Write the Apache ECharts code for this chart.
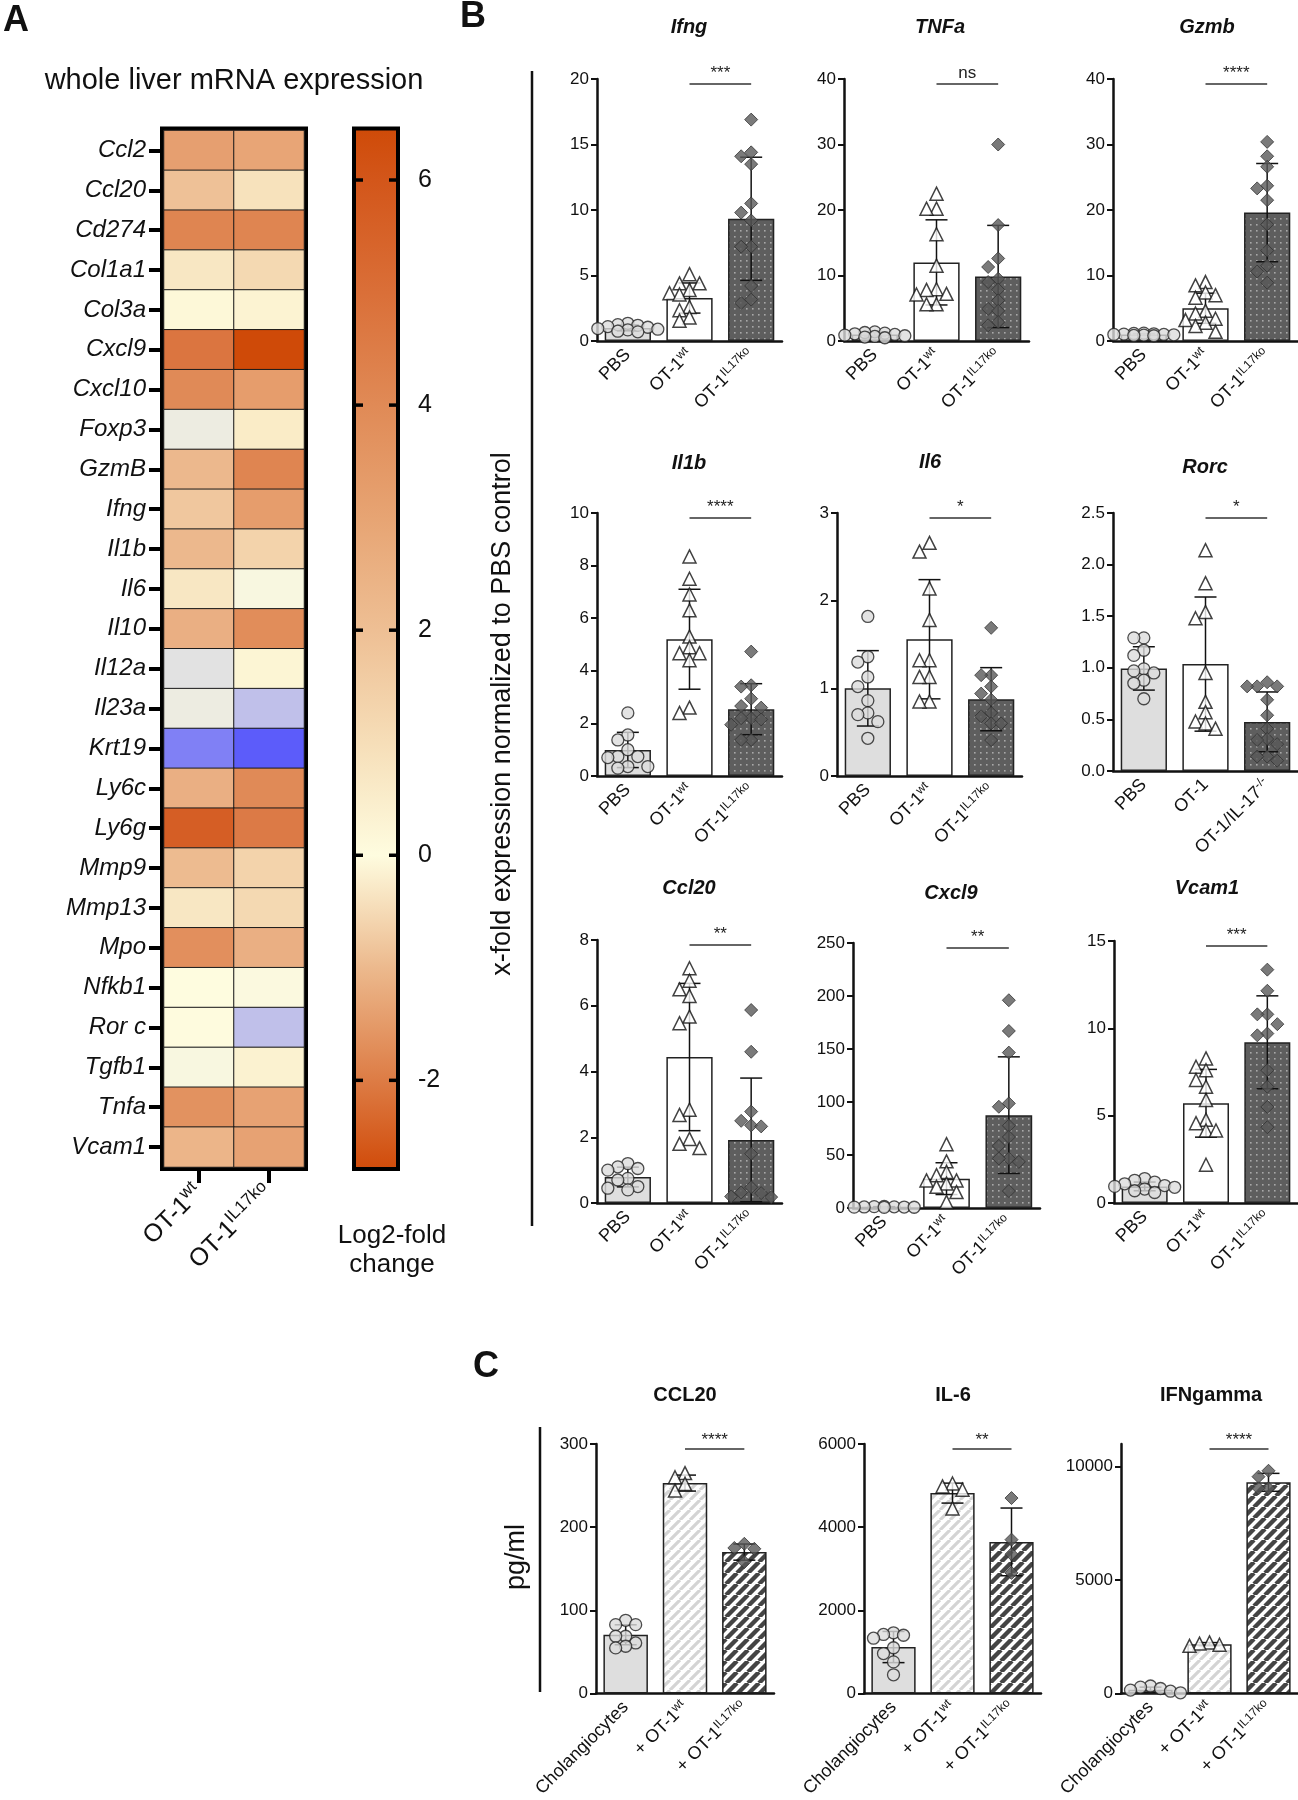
<!DOCTYPE html>
<html><head><meta charset="utf-8">
<script src="https://cdn.jsdelivr.net/npm/echarts@6/dist/echarts.min.js"></script>
<style>html,body{margin:0;padding:0;background:#fff}#c{width:1298px;height:1800px}</style>
</head><body><div id="c"></div>
<script>
// ================= DATA =================
// Panel A – heatmap (log2-fold change)
const genes = ['Ccl2','Ccl20','Cd274','Col1a1','Col3a','Cxcl9','Cxcl10','Foxp3','GzmB','Ifng','Il1b','Il6','Il10','Il12a','Il23a','Krt19','Ly6c','Ly6g','Mmp9','Mmp13','Mpo','Nfkb1','Ror c','Tgfb1','Tnfa','Vcam1'];
const heatGroups = ['OT-1^wt','OT-1^IL17ko'];
const log2wt = [3.2, 2.0, 4.2, 0.7, 0.15, 4.8, 4.0, -0.3, 2.3, 1.8, 2.3, 0.7, 2.6, -0.5, -0.3, -2.0, 2.6, 5.7, 2.2, 0.7, 3.8, 0.0, 0.02, -0.1, 3.7, 2.4];
const log2ko = [3.0, 0.9, 4.2, 1.2, 0.3, 6.5, 3.3, 0.55, 4.2, 3.3, 1.4, -0.1, 3.9, 0.25, -1.0, -2.6, 4.0, 4.6, 1.4, 1.2, 2.6, -0.05, -1.0, 0.35, 3.1, 3.1];
const colorbarTicks = [-2, 0, 2, 4, 6];
const colorbarMin = -2.77, colorbarMax = 6.44;

// Panel B – x-fold expression
const labelsB = ['PBS', 'OT-1^wt', 'OT-1^IL17ko'];
const labelsRorc = ['PBS', 'OT-1', 'OT-1/IL-17^-/-'];
const ifngPBS = [1.35, 1.25, 1.2, 1.1, 1.05, 0.95, 0.9, 0.85, 0.75, 0.7];
const ifngWT = [5.1, 4.4, 4.4, 3.9, 3.65, 3.55, 2.6, 2.35, 1.8, 1.55];
const ifngKO = [16.9, 14.4, 14.1, 13.5, 10.5, 9.8, 9.2, 7.2, 7.2, 4.2, 3.16, 2.9];
const ifngMean = [1.0, 3.28, 9.33], ifngSD = [0.22, 1.15, 4.7];

const tnfPBS = [1.4, 1.3, 1.2, 1.1, 1.0, 0.9, 0.8, 0.7, 0.6, 0.5];
const tnfWT = [22.5, 20.2, 20.2, 16.3, 11.5, 7.9, 7.8, 7.2, 7.1, 5.6, 5.6];
const tnfKO = [30.0, 17.7, 12.6, 11.3, 9.5, 9.0, 7.85, 6.2, 4.9, 4.6, 2.9, 2.4];
const tnfMean = [1.0, 12.0, 9.85], tnfSD = [0.3, 6.5, 7.8];

const gzmPBS = [1.2, 1.15, 1.1, 1.05, 1.0, 1.0, 0.95, 0.9, 0.85, 0.8];
const gzmWT = [9.0, 8.5, 7.4, 7.0, 6.6, 4.6, 4.2, 3.4, 3.2, 2.8, 2.3, 1.4];
const gzmKO = [30.4, 28.2, 26.6, 23.7, 23.3, 21.5, 17.8, 13.8, 11.5, 10.6, 8.9];
const gzmMean = [1.0, 5.0, 19.6], gzmSD = [0.13, 2.3, 7.5];

const il1bPBS = [2.4, 1.56, 1.37, 1.0, 0.74, 0.74, 0.7, 0.36, 0.36, 0.3];
const il1bWT = [8.35, 7.5, 6.9, 6.3, 5.3, 4.9, 4.67, 4.67, 4.4, 2.6, 2.4];
const il1bKO = [4.73, 3.45, 3.4, 2.94, 2.66, 2.6, 2.2, 2.2, 2.15, 1.95, 1.37, 1.37];
const il1bMean = [0.99, 5.2, 2.54], il1bSD = [0.67, 1.9, 0.97];

const il6PBS = [1.82, 1.36, 1.3, 1.13, 1.02, 0.86, 0.72, 0.7, 0.62, 0.43];
const il6WT = [2.66, 2.56, 2.14, 1.78, 1.32, 1.32, 1.13, 1.13, 0.85, 0.85];
const il6KO = [1.69, 1.15, 1.15, 1.02, 0.94, 0.87, 0.72, 0.68, 0.6, 0.6, 0.41];
const il6Mean = [1.0, 1.56, 0.876], il6SD = [0.43, 0.68, 0.36];

const rorcPBS = [1.29, 1.29, 1.17, 1.12, 0.99, 0.97, 0.95, 0.88, 0.85, 0.7];
const rorcWT = [2.14, 1.82, 1.54, 1.48, 0.95, 0.67, 0.57, 0.48, 0.46, 0.41];
const rorcKO = [0.86, 0.82, 0.82, 0.82, 0.69, 0.54, 0.41, 0.31, 0.3, 0.26, 0.14, 0.14, 0.1];
const rorcMean = [0.994, 1.036, 0.476], rorcSD = [0.21, 0.65, 0.29];

const ccl20PBS = [1.2, 1.1, 1.05, 1.0, 0.75, 0.7, 0.5, 0.45, 0.4];
const ccl20WT = [7.14, 6.76, 6.5, 6.3, 5.67, 5.47, 2.84, 2.68, 1.95, 1.8, 1.67];
const ccl20KO = [5.87, 4.6, 2.78, 2.5, 2.36, 2.33, 1.5, 0.48, 0.32, 0.3, 0.2, 0.18];
const ccl20Mean = [0.79, 4.44, 1.92], ccl20SD = [0.3, 2.24, 1.88];

const cxcl9PBS = [1.5, 1.3, 1.1, 1.0, 0.9, 0.8, 0.7, 0.6];
const cxcl9WT = [60.2, 44, 34, 31, 26, 26, 23, 20, 15, 5.7];
const cxcl9KO = [196, 167, 146.6, 98.7, 95.5, 77.6, 67, 58.6, 46.7, 46.7, 43.5, 16];
const cxcl9Mean = [1.0, 27.7, 87.6], cxcl9SD = [0.3, 15, 55];

const vcamPBS = [1.4, 1.3, 1.2, 1.1, 1.0, 0.95, 0.9, 0.8, 0.7, 0.6];
const vcamWT = [8.28, 7.8, 7.6, 7.04, 6.66, 5.9, 4.76, 4.57, 4.15, 4.15, 2.19];
const vcamKO = [13.36, 12.15, 10.8, 10.8, 10.24, 9.7, 9.6, 7.6, 6.66, 5.5, 4.34];
const vcamMean = [0.95, 5.71, 9.2], vcamSD = [0.25, 1.94, 2.66];

// Panel C – pg/ml
const labelsC = ['Cholangiocytes', '+ OT-1^wt', '+ OT-1^IL17ko'];
const cCcl20Chol = [88, 82.8, 82.8, 68.8, 68.8, 60.8, 56.8, 54.8];
const cCcl20WT = [265, 260, 252, 244];
const cCcl20KO = [180, 175, 174, 158];
const cCcl20Mean = [70.6, 253, 170], cCcl20SD = [12, 9.6, 9.7];

const cIl6Chol = [1460, 1420, 1400, 1330, 1100, 960, 760, 450];
const cIl6WT = [5050, 4980, 4900, 4450];
const cIl6KO = [4700, 3700, 3350, 2900];
const cIl6Mean = [1117, 4819, 3646], cIl6SD = [375, 240, 814];

const cIfnChol = [330, 280, 220, 150, 100, 60, 30];
const cIfnWT = [2250, 2200, 2150, 2100];
const cIfnKO = [9820, 9560, 9045, 9045];
const cIfnMean = [170, 2175, 9310], cIfnSD = [110, 70, 395];
const cIfnTicks = [0, 5000, 10000];

// ================= STYLE HELPERS =================
const FONT = '"Liberation Sans", Arial, Helvetica, sans-serif';
const heatColors = ['#4a4afc','#6060fa','#8080f5','#a0a0f0','#c0c0ea','#e2e2e2','#fefcdf','#faedc9','#f6dfb9','#f2d0a8','#eec197','#ebb286','#e8a576','#e49766','#e08a57','#dd7d49','#da703a','#d6632b','#d3571c','#cf4a08'];
const colorbarStops = [[6.44,'#cf4b09'],[6,'#d3561a'],[5,'#da6f38'],[4,'#e08a56'],[3,'#e7a473'],[2,'#eebf94'],[1,'#f6deb8'],[0,'#fefcdf'],[-1,'#ecb98d'],[-2,'#dd7c45'],[-2.77,'#d14d0c']];

function makePattern(kind){
  const c = document.createElement('canvas');
  if (kind === 'dots'){
    c.width = 6; c.height = 6;
    const g = c.getContext('2d');
    g.fillStyle = '#5e5e5e'; g.fillRect(0,0,6,6);
    g.fillStyle = '#a8a8a8'; g.fillRect(2,2,1.6,1.6);
  } else {
    const s = kind === 'light' ? 10 : 11;
    c.width = s; c.height = s;
    const g = c.getContext('2d');
    g.fillStyle = '#fff'; g.fillRect(0,0,s,s);
    g.strokeStyle = kind === 'light' ? '#d4d4d4' : '#444';
    g.lineWidth = kind === 'light' ? 3.2 : 4.4;
    g.beginPath();
    for (let k=-1;k<=1;k++){ g.moveTo(k*s, s); g.lineTo(k*s+s, 0); }
    g.stroke();
  }
  return {image: c, repeat: 'repeat'};
}
const fillsB = ['#dedede', '#ffffff', makePattern('dots')];
const fillsC = ['#dedede', makePattern('light'), makePattern('dark')];

function supFmt(v){
  const i = v.indexOf('^');
  return i < 0 ? '{n|' + v + '}' : '{n|' + v.slice(0,i) + '}{s|' + v.slice(i+1) + '}';
}
const richA = {n:{fontSize:25, fontFamily:FONT, color:'#111'}, s:{fontSize:17, fontFamily:FONT, color:'#111', padding:[0,0,14,0]}};
const richB = {n:{fontSize:18, fontFamily:FONT, color:'#111'}, s:{fontSize:12, fontFamily:FONT, color:'#111', padding:[0,0,9,0]}};

const SYM = ['circle','triangle','diamond'];
const SIZE = [12, 13, 13];
const PSTYLE = [
  {color:'#dcdcdc', borderColor:'#222', borderWidth:1.3},
  {color:'#ffffff', borderColor:'#111', borderWidth:1.5},
  {color:'#595959', borderColor:'#333', borderWidth:1}
];

// ================= OPTION =================
const option = {animation:false, backgroundColor:'#fff', grid:[], xAxis:[], yAxis:[], series:[], visualMap:[], graphic:[]};

// ---- Panel A heatmap ----
option.grid.push({left:164, top:130.5, width:140, height:1036.5, show:true, borderColor:'#000', borderWidth:8, backgroundColor:'transparent'});
option.xAxis.push({type:'category', gridIndex:0, data:heatGroups, axisLine:{show:false},
  axisTick:{show:true, alignWithLabel:true, length:16, lineStyle:{color:'#000', width:4}},
  axisLabel:{rotate:45, margin:22, interval:0, formatter:supFmt, rich:richA}, splitLine:{show:false}});
option.yAxis.push({type:'category', gridIndex:0, data:genes, inverse:true, axisLine:{show:false},
  axisTick:{show:true, alignWithLabel:true, length:15, lineStyle:{color:'#000', width:4}},
  axisLabel:{fontSize:24, fontStyle:'italic', fontFamily:FONT, color:'#111', margin:18, interval:0}, splitLine:{show:false}});
const heatData = [];
genes.forEach((g, yi) => { heatData.push([0, yi, log2wt[yi]]); heatData.push([1, yi, log2ko[yi]]); });
option.series.push({type:'heatmap', xAxisIndex:0, yAxisIndex:0, data:heatData, itemStyle:{borderColor:'#1a1a1a', borderWidth:1}});
option.visualMap.push({type:'continuous', show:false, seriesIndex:0, dimension:2, min:-3, max:6.5, inRange:{color:heatColors}});

// ---- Panel A colorbar ----
option.grid.push({left:356, top:130.5, width:40, height:1036.5, show:true, borderColor:'#000', borderWidth:8, backgroundColor:'transparent'});
option.xAxis.push({type:'value', gridIndex:1, min:0, max:1, show:false});
option.yAxis.push({type:'value', gridIndex:1, position:'right', min:colorbarMin, max:colorbarMax, axisLine:{show:false, onZero:false},
  axisTick:{show:false},
  axisLabel:{customValues:colorbarTicks, fontSize:25, fontFamily:FONT, color:'#111', margin:22}, splitLine:{show:false}});
option.series.push({type:'custom', xAxisIndex:1, yAxisIndex:1, data:colorbarTicks.map(v => [0.5, v]), z:1,
  renderItem:(p, api) => {
    const cs = p.coordSys;
    const children = [];
    if (p.dataIndex === 0){
      const span = colorbarMax - colorbarMin;
      const stops = colorbarStops.map(s => ({offset:(colorbarMax - s[0]) / span, color:s[1]}));
      children.push({type:'rect', z2:0, shape:{x:cs.x, y:cs.y, width:cs.width, height:cs.height},
        style:{fill:new echarts.graphic.LinearGradient(0,0,0,1,stops)}});
    }
    const y = api.coord([0.5, api.value(1)])[1];
    const st = {stroke:'#000', lineWidth:3.5};
    children.push({type:'line', z2:5, shape:{x1:cs.x, y1:y, x2:cs.x + 7, y2:y}, style:st});
    children.push({type:'line', z2:5, shape:{x1:cs.x + cs.width - 7, y1:y, x2:cs.x + cs.width, y2:y}, style:st});
    return {type:'group', children};
  }});

// ---- bar/scatter charts ----
function swarm(vals, gi, c){
  const ppu = c.height / c.max, band = c.width / 3, step = 10;
  const order = vals.map((v,i)=>i).sort((a,b)=>vals[b]-vals[a]);
  const placed = [], out = [];
  const cands = [0,-1,1,-2,2,-3,3];
  order.forEach(i => {
    const py = vals[i] * ppu;
    let best = 0, bestD = -1;
    for (const k of cands){
      const px = k * step;
      let minD = Infinity;
      placed.forEach(p => { const d = Math.hypot(p[0]-px, p[1]-py); if (d < minD) minD = d; });
      if (minD >= step){ best = px; bestD = minD; break; }
      if (minD > bestD){ bestD = minD; best = px; }
    }
    placed.push([best, py]);
    out.push([gi + best / band, vals[i]]);
  });
  return out;
}

function addBarChart(c){
  const g = option.grid.length;
  option.grid.push({left:c.left, top:c.top, width:c.width, height:c.height});
  const xi = option.xAxis.length;
  option.xAxis.push({type:'category', gridIndex:g, data:c.labels,
    axisLine:{onZero:false, lineStyle:{color:'#111', width:2.5}},
    axisTick:{alignWithLabel:true, length:9, lineStyle:{color:'#111', width:2.5}},
    axisLabel:{rotate:45, margin:11, interval:0, formatter:supFmt, rich:richB}, splitLine:{show:false}});
  option.xAxis.push({type:'value', gridIndex:g, min:-0.5, max:2.5, show:false});
  const yi = option.yAxis.length;
  const ya = {type:'value', gridIndex:g, min:0, max:c.max, interval:c.interval,
    axisLine:{show:true, onZero:false, lineStyle:{color:'#111', width:2.5}},
    axisTick:{show:true, length:6, lineStyle:{color:'#111', width:2}},
    axisLabel:{fontSize:17, fontFamily:FONT, color:'#111', margin:8,
      formatter: v => c.dec ? v.toFixed(c.dec) : String(v)},
    splitLine:{show:false}};
  if (c.ticks){ ya.axisTick.customValues = c.ticks; ya.axisLabel.customValues = c.ticks; }
  option.yAxis.push(ya);
  option.series.push({type:'bar', xAxisIndex:xi, yAxisIndex:yi, barWidth:'75%', z:2,
    data:c.mean.map((m,i)=>({value:m, itemStyle:{color:c.fills[i], borderColor:'#222', borderWidth:1.5}}))});
  option.series.push({type:'custom', xAxisIndex:xi, yAxisIndex:yi, z:3,
    data:c.mean.map((m,i)=>[i, m, c.sd[i]]),
    renderItem:(p, api) => {
      const x = api.value(0), m = api.value(1), s = api.value(2);
      const t = api.coord([x, m + s]), b = api.coord([x, Math.max(m - s, 0)]);
      const hw = 11, st = {stroke:'#111', lineWidth:1.5};
      return {type:'group', children:[
        {type:'line', shape:{x1:t[0], y1:t[1], x2:b[0], y2:b[1]}, style:st},
        {type:'line', shape:{x1:t[0]-hw, y1:t[1], x2:t[0]+hw, y2:t[1]}, style:st},
        {type:'line', shape:{x1:b[0]-hw, y1:b[1], x2:b[0]+hw, y2:b[1]}, style:st}
      ]};
    }});
  c.pts.forEach((arr, gi) => {
    option.series.push({type:'scatter', xAxisIndex:xi+1, yAxisIndex:yi, z:4,
      data:swarm(arr, gi, c), symbol:SYM[gi], symbolSize:SIZE[gi], itemStyle:PSTYLE[gi]});
  });
  option.series.push({type:'custom', xAxisIndex:xi, yAxisIndex:yi, z:5, clip:false,
    data:[[1, c.max]],
    renderItem:(p, api) => {
      const a = api.coord([1, c.max]), b = api.coord([2, c.max]);
      const y = a[1] + 5;
      return {type:'group', children:[
        {type:'line', shape:{x1:a[0], y1:y, x2:b[0], y2:y}, style:{stroke:'#333', lineWidth:1.5}},
        {type:'text', x:(a[0]+b[0])/2, y:y - c.sigGap, style:{text:c.sig, align:'center', verticalAlign:'bottom', fontSize:17, fontFamily:FONT, fill:'#222'}}
      ]};
    }});
  option.graphic.push({type:'text', x:c.tx, y:c.ty, style:{text:c.title, align:'center', verticalAlign:'middle',
    fontSize:20, fontWeight:'bold', fontStyle:c.italic ? 'italic' : 'normal', fontFamily:FONT, fill:'#111'}});
}

const charts = [
  {title:'Ifng', italic:true, tx:689, ty:27, left:597, top:79, width:185, height:262, max:20, interval:5, labels:labelsB, pts:[ifngPBS, ifngWT, ifngKO], mean:ifngMean, sd:ifngSD, sig:'***', sigGap:2, fills:fillsB},
  {title:'TNFa', italic:true, tx:940, ty:27, left:844, top:79, width:185, height:262, max:40, interval:10, labels:labelsB, pts:[tnfPBS, tnfWT, tnfKO], mean:tnfMean, sd:tnfSD, sig:'ns', sigGap:2, fills:fillsB},
  {title:'Gzmb', italic:true, tx:1207, ty:27, left:1113, top:79, width:185, height:262, max:40, interval:10, labels:labelsB, pts:[gzmPBS, gzmWT, gzmKO], mean:gzmMean, sd:gzmSD, sig:'****', sigGap:2, fills:fillsB},
  {title:'Il1b', italic:true, tx:689, ty:463, left:597, top:513, width:185, height:263, max:10, interval:2, labels:labelsB, pts:[il1bPBS, il1bWT, il1bKO], mean:il1bMean, sd:il1bSD, sig:'****', sigGap:2, fills:fillsB},
  {title:'Il6', italic:true, tx:930, ty:462, left:837, top:513, width:185, height:263, max:3, interval:1, labels:labelsB, pts:[il6PBS, il6WT, il6KO], mean:il6Mean, sd:il6SD, sig:'*', sigGap:2, fills:fillsB},
  {title:'Rorc', italic:true, tx:1205, ty:467, left:1113, top:513, width:185, height:258, max:2.5, interval:0.5, dec:1, labels:labelsRorc, pts:[rorcPBS, rorcWT, rorcKO], mean:rorcMean, sd:rorcSD, sig:'*', sigGap:2, fills:fillsB},
  {title:'Ccl20', italic:true, tx:689, ty:888, left:597, top:940, width:185, height:263, max:8, interval:2, labels:labelsB, pts:[ccl20PBS, ccl20WT, ccl20KO], mean:ccl20Mean, sd:ccl20SD, sig:'**', sigGap:2, fills:fillsB},
  {title:'Cxcl9', italic:true, tx:951, ty:893, left:853, top:943, width:187, height:265, max:250, interval:50, labels:labelsB, pts:[cxcl9PBS, cxcl9WT, cxcl9KO], mean:cxcl9Mean, sd:cxcl9SD, sig:'**', sigGap:2, fills:fillsB},
  {title:'Vcam1', italic:true, tx:1207, ty:888, left:1114, top:941, width:184, height:262, max:15, interval:5, labels:labelsB, pts:[vcamPBS, vcamWT, vcamKO], mean:vcamMean, sd:vcamSD, sig:'***', sigGap:2, fills:fillsB},
  {title:'CCL20', italic:false, tx:685, ty:1395, left:596, top:1444, width:178, height:250, max:300, interval:100, labels:labelsC, pts:[cCcl20Chol, cCcl20WT, cCcl20KO], mean:cCcl20Mean, sd:cCcl20SD, sig:'****', sigGap:0, fills:fillsC},
  {title:'IL-6', italic:false, tx:953, ty:1395, left:864, top:1444, width:177, height:250, max:6000, interval:2000, labels:labelsC, pts:[cIl6Chol, cIl6WT, cIl6KO], mean:cIl6Mean, sd:cIl6SD, sig:'**', sigGap:0, fills:fillsC},
  {title:'IFNgamma', italic:false, tx:1211, ty:1395, left:1121, top:1444, width:177, height:250, max:11000, interval:5000, ticks:cIfnTicks, labels:labelsC, pts:[cIfnChol, cIfnWT, cIfnKO], mean:cIfnMean, sd:cIfnSD, sig:'****', sigGap:0, fills:fillsC}
];
charts.forEach(addBarChart);

// ---- free text & lines ----
const txt = (x, y, text, size, extra) => Object.assign({type:'text', x, y, style:Object.assign({text, align:'center', verticalAlign:'middle', fontSize:size, fontFamily:FONT, fill:'#111'}, extra || {})});
option.graphic.push(txt(16, 21, 'A', 36, {fontWeight:'bold'}));
option.graphic.push(txt(473, 17, 'B', 36, {fontWeight:'bold'}));
option.graphic.push(txt(486, 1367, 'C', 36, {fontWeight:'bold'}));
option.graphic.push(txt(234, 81, 'whole liver mRNA expression', 29));
option.graphic.push(txt(392, 1236, 'Log2-fold', 26));
option.graphic.push(txt(392, 1265, 'change', 26));
option.graphic.push(Object.assign(txt(0, 0, 'x-fold expression normalized to PBS control', 27), {x:503, y:714, rotation:Math.PI/2}));
option.graphic.push(Object.assign(txt(0, 0, 'pg/ml', 27), {x:517, y:1557, rotation:Math.PI/2}));
option.graphic.push({type:'line', shape:{x1:532, y1:71, x2:532, y2:1226}, style:{stroke:'#111', lineWidth:2.5}});
option.graphic.push({type:'line', shape:{x1:540, y1:1427, x2:540, y2:1692}, style:{stroke:'#111', lineWidth:2.5}});

const chart = echarts.init(document.getElementById('c'), null, {renderer:'canvas'});
chart.setOption(option);
</script>
</body></html>
